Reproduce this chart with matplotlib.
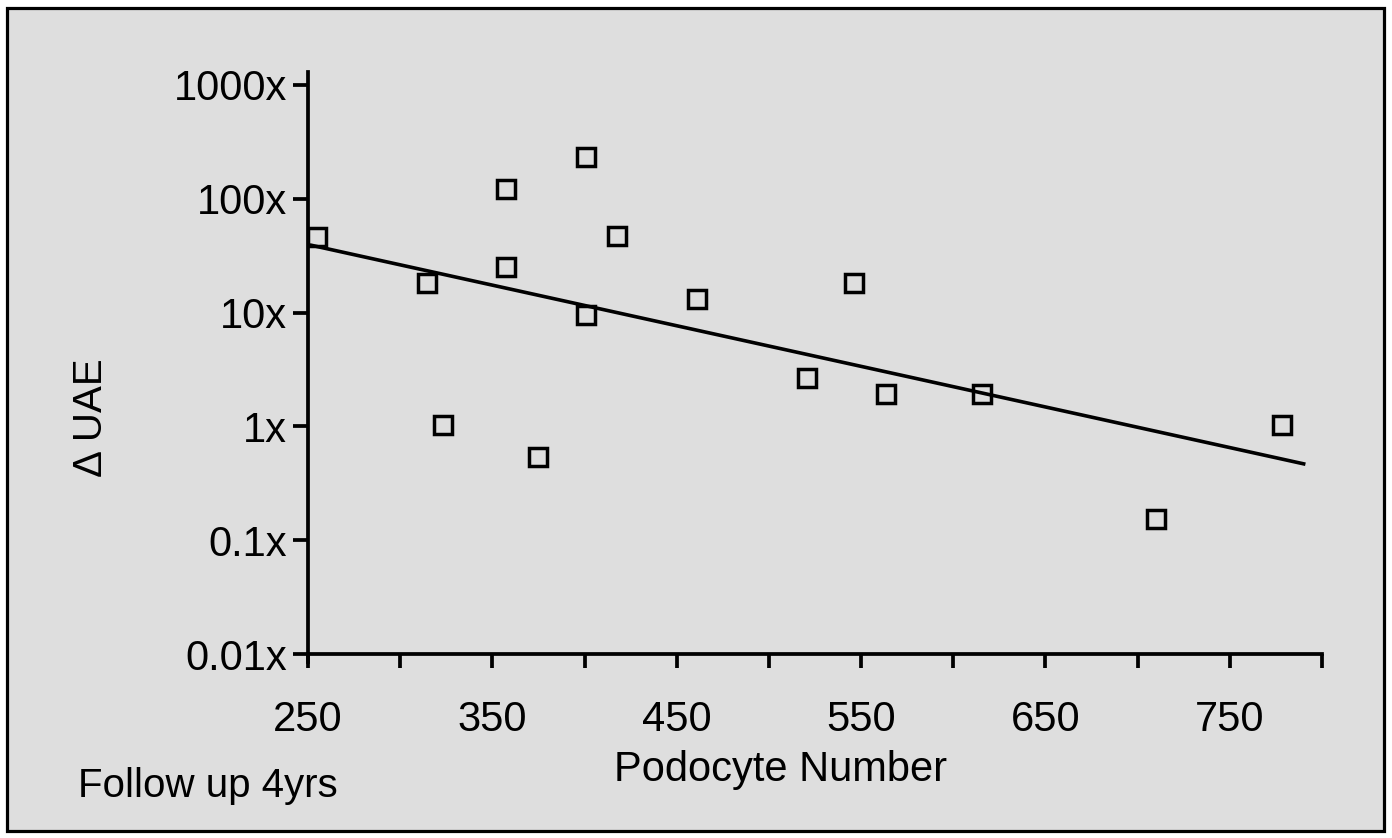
import matplotlib
matplotlib.use("Agg")
import matplotlib.pyplot as plt
from matplotlib.patches import Rectangle

# ---- data ----
podocyte_number = [254.7, 314.4, 323.1, 357.4, 357.4, 374.6, 400.6, 400.6,
                   417.4, 460.8, 520.8, 546.3, 563.5, 615.4, 709.8, 778.1]
delta_uae = [46.4, 18.1, 1.03, 121, 25, 0.54, 234, 9.5,
             47, 13.1, 2.68, 18.1, 1.93, 1.93, 0.153, 1.03]
trend_x = [251, 791]
trend_y = [39.3, 0.465]

xticks_all = [250, 300, 350, 400, 450, 500, 550, 600, 650, 700, 750, 800]
xtick_labels = ["250", "", "350", "", "450", "", "550", "", "650", "", "750", ""]
yticks = [0.01, 0.1, 1, 10, 100, 1000]
ytick_labels = ["0.01x", "0.1x", "1x", "10x", "100x", "1000x"]

W, H = 1392, 838
plt.rcParams['font.family'] = ['Liberation Sans', 'DejaVu Sans']
fig = plt.figure(figsize=(W / 100, H / 100), dpi=100)
fig.patch.set_facecolor("white")

bg = "#dedede"
fig.patches.append(Rectangle((7 / W, 1 - 831 / H), (1384 - 7) / W, (831 - 8) / H,
                             transform=fig.transFigure, facecolor=bg,
                             edgecolor="black", linewidth=2.3, zorder=-5))

ax = fig.add_axes([308 / W, 1 - 654 / H, (1322 - 308) / W, (654 - 72) / H])
ax.set_zorder(2)
ax.set_facecolor("none")
ax.set_yscale("log")
ax.set_xlim(250, 800)
ax.set_ylim(0.01, 1300)

lw = 2.7
ax.plot(trend_x, trend_y, color="black", linewidth=2.6, solid_capstyle="butt", zorder=3)
ax.plot(podocyte_number, delta_uae, linestyle="none", marker="s", markersize=12.5,
        markerfacecolor="none", markeredgecolor="black", markeredgewidth=2.5, zorder=4)

for s in ["top", "right"]:
    ax.spines[s].set_visible(False)
for s in ["left", "bottom"]:
    ax.spines[s].set_linewidth(lw)
    ax.spines[s].set_color("black")
ax.spines["left"].set_bounds(0.0085, 1300)

ax.set_xticks(xticks_all)
ax.set_xticklabels(xtick_labels)
ax.xaxis.set_minor_locator(matplotlib.ticker.NullLocator())
ax.set_yticks(yticks)
ax.set_yticklabels(ytick_labels)
ax.yaxis.set_minor_locator(matplotlib.ticker.NullLocator())
ax.tick_params(axis="x", direction="out", length=10, width=lw, pad=23,
               labelsize=30, colors="black")
ax.tick_params(axis="y", direction="out", length=11, width=lw, pad=4,
               labelsize=30, colors="black")

fig.text(781 / W, 1 - 770 / H, "Podocyte Number", fontsize=30,
         ha="center", va="center")
fig.text(78 / W, 1 - 786 / H, "Follow up 4yrs", fontsize=29,
         ha="left", va="center")
fig.text(91 / W, 1 - 418 / H, "\u0394 UAE", fontsize=29, rotation=90,
         ha="center", va="center")

fig.savefig("out.png", dpi=100, facecolor=fig.get_facecolor())
